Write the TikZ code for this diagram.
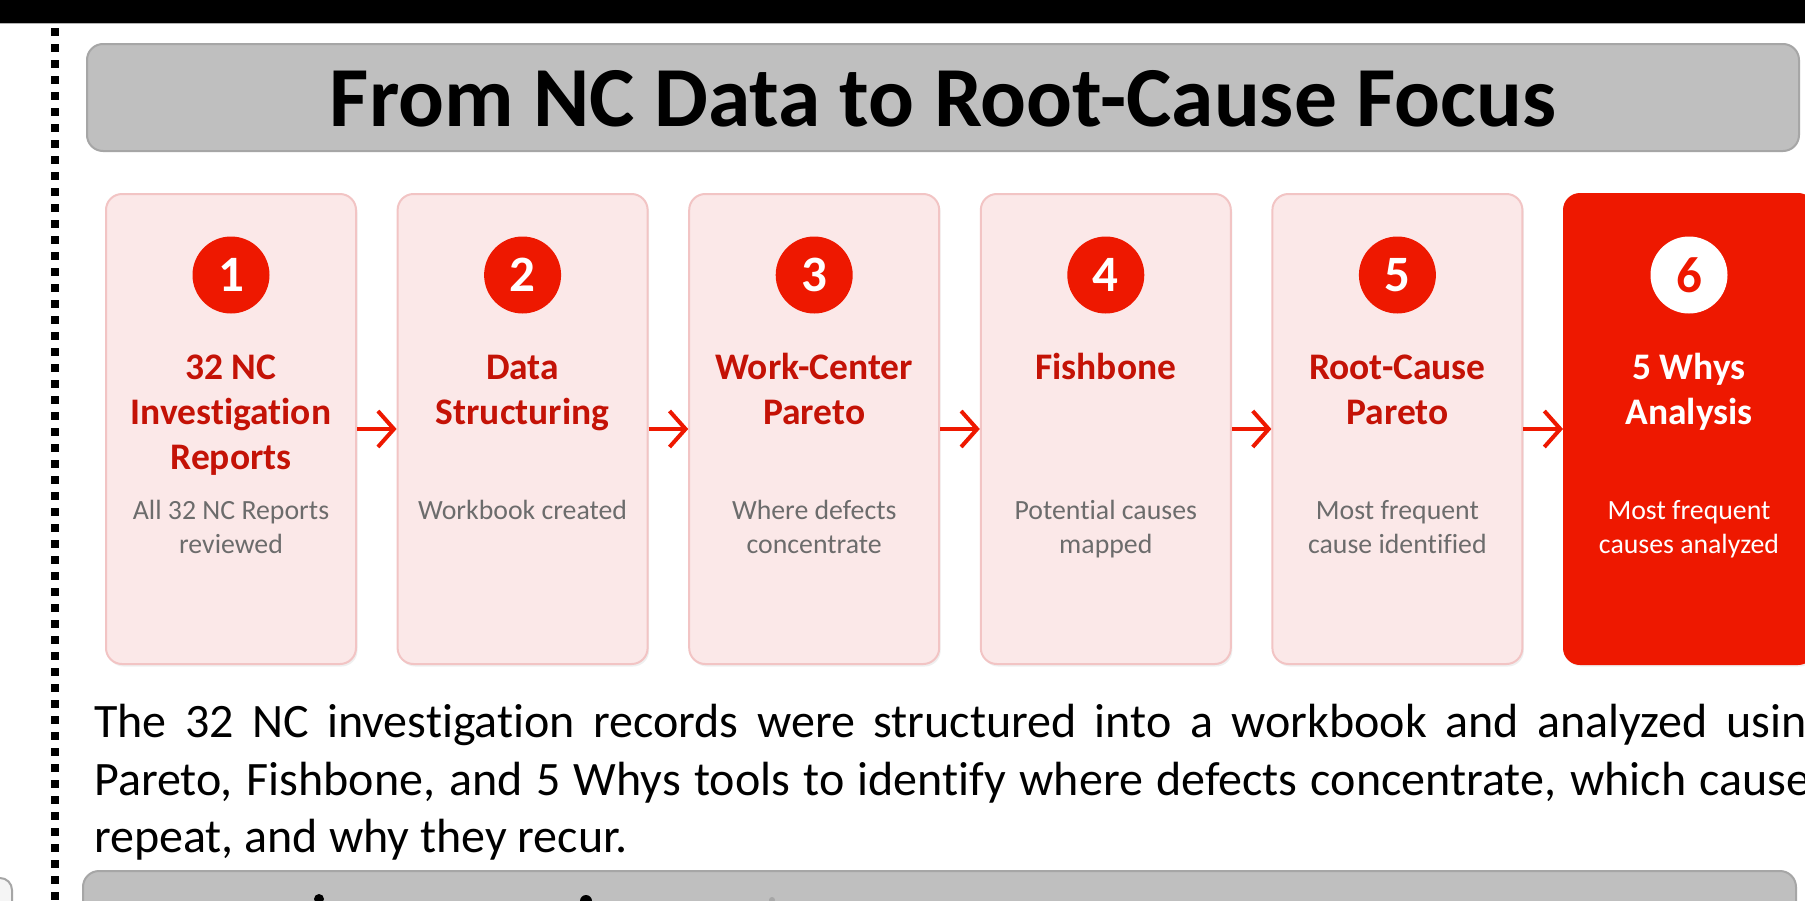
\documentclass[tikz,border=0pt]{standalone}
\usepackage{fontspec}
\setmainfont{Carlito}[Ligatures=NoCommon]
\usetikzlibrary{arrows.meta,shadows}
\definecolor{rd}{RGB}{238,24,0}
\definecolor{dred}{RGB}{196,18,6}
\definecolor{pinkfill}{RGB}{251,232,232}
\definecolor{pinkline}{RGB}{242,196,196}
\definecolor{subgray}{RGB}{108,108,108}
\definecolor{barfill}{RGB}{191,191,191}
\definecolor{barline}{RGB}{166,166,166}
\tikzset{
  stepbox/.style={draw=pinkline, line width=2pt, fill=pinkfill, rounded corners=16pt,
    minimum width=250pt, minimum height=470pt, inner sep=0pt,
    drop shadow={shadow xshift=1.5pt, shadow yshift=-2.5pt, opacity=0.12}},
  lastbox/.style={stepbox, draw=rd, fill=rd},
  numcirc/.style={circle, fill=rd, minimum size=77pt, inner sep=0pt, text=white,
    font=\fontsize{51}{51}\selectfont\bfseries},
  lastcirc/.style={numcirc, fill=white, text=rd},
  ttl/.style={anchor=base, inner sep=0pt, text=dred, font=\fontsize{37.5}{42}\selectfont\bfseries},
  sub/.style={anchor=base, inner sep=0pt, text=subgray, font=\fontsize{27.8}{30}\selectfont},
  flow/.style={draw=rd, line width=4pt, -{Straight Barb[length=16pt,width=36pt,line width=4pt]}},
  bar/.style={draw=barline, line width=2pt, fill=barfill, rounded corners=16pt},
  para/.style={anchor=base west, inner sep=0pt, font=\fontsize{48}{57}\selectfont}
}
\begin{document}
\begin{tikzpicture}[x=1pt,y=-1pt]
\useasboundingbox (0,0) rectangle (1805,900);
\clip (0,0) rectangle (1805,900);
\fill[white] (0,0) rectangle (1805,900);
% top black bar
\fill[black] (0,0) rectangle (1805,23);
\draw[gray!60, line width=1pt] (0,23.5) -- (1805,23.5);
% dotted vertical line
\draw[black, line width=8pt, dash pattern=on 8pt off 8pt] (55,28) -- (55,905);
% title bar
\draw[bar] (87,44) rectangle (1799,151);
\node[anchor=base, inner sep=0pt, font=\fontsize{85.5}{90}\selectfont\bfseries] (title) at (943,126.5) {From NC Data to Root-Cause Focus};
% step boxes 1-5
\foreach \i/\tl/\sl in {1/{32 NC,Investigation,Reports}/{All 32 NC Reports,reviewed},
                        2/{Data,Structuring}/{Workbook created},
                        3/{Work-Center,Pareto}/{Where defects,concentrate},
                        4/{Fishbone}/{Potential causes,mapped},
                        5/{Root-Cause,Pareto}/{Most frequent,cause identified}}{
  \pgfmathsetmacro\cx{231+(\i-1)*291.6}
  \node[stepbox] (b\i) at (\cx,429) {};
  \node[numcirc] (c\i) at (\cx,275) {\i};
  \foreach \l [count=\k] in \tl {\node[ttl] (t\i-\k) at (\cx,{379+45*(\k-1)}) {\l};}
  \foreach \l [count=\k] in \sl {\node[sub] (s\i-\k) at (\cx,{519+34*(\k-1)}) {\l};}
}
% step box 6 (highlighted)
\node[lastbox] (b6) at (1689,429) {};
\node[lastcirc] (c6) at (1689,275) {6};
\node[ttl, text=white] (t6-1) at (1689,379) {5 Whys};
\node[ttl, text=white] (t6-2) at (1689,424) {Analysis};
\node[sub, text=white] (s6-1) at (1689,519) {Most frequent};
\node[sub, text=white] (s6-2) at (1689,553) {causes analyzed};
% arrows
\foreach \i [evaluate=\i as \j using int(\i+1)] in {1,...,5}{
  \draw[flow] (b\i.east) -- (b\j.west);
}
% paragraph
\node[para] (p1) at (94,737) {\makebox[1735pt][s]{The 32 NC investigation records were structured into a workbook and analyzed using}};
\node[para] (p2) at (94,795) {\makebox[1735pt][s]{Pareto, Fishbone, and 5 Whys tools to identify where defects concentrate, which causes}};
\node[para] (p3) at (94,852) {repeat, and why they recur.};
% bottom bars (cut off)
\draw[bar] (83,871) rectangle (1796,960);
\draw[draw=barline, line width=2pt, fill=gray!8, rounded corners=12pt] (-40,878) rectangle (12,960);
% tops of cut-off letters
\fill[black] (319,899) circle (5pt);
\fill[black] (586,901) circle (6pt);
\fill[barline] (772,900) circle (3pt);
\end{tikzpicture}
\end{document}
